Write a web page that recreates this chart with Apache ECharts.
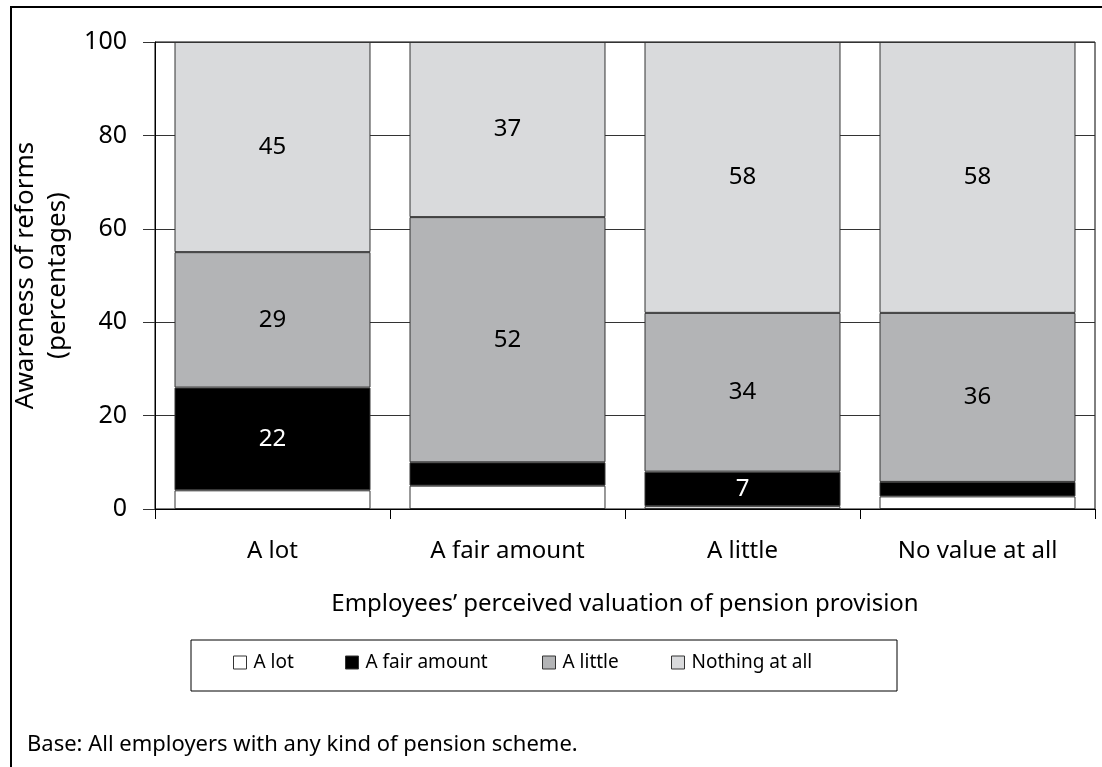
<!DOCTYPE html>
<html>
<head>
<meta charset="utf-8">
<script src="https://cdn.jsdelivr.net/npm/echarts@6/dist/echarts.min.js"></script>
<style>
html,body{margin:0;padding:0;background:#fff;}
#chart{width:1102px;height:767px;}
</style>
</head>
<body>
<div id="chart"></div>
<script>
var categories = ['A lot', 'A fair amount', 'A little', 'No value at all'];
var seriesNames = ['A lot', 'A fair amount', 'A little', 'Nothing at all'];
var aLot = [4, 5, 0.6, 2.7];
var aFairAmount = [22, 5, 7.4, 3.1];
var aLittle = [29, 52.5, 34, 36.2];
var nothingAtAll = [45, 37.5, 58, 58];
var yTicks = [0, 20, 40, 60, 80, 100];
var seriesColors = ['#ffffff', '#000000', '#b3b4b6', '#d9dadc'];
var labelColors = ['#000000', '#ffffff', '#000000', '#000000'];

var FONT = 'Noto Sans';
var chart = echarts.init(document.getElementById('chart'), null, {renderer: 'canvas'});
var allData = [aLot, aFairAmount, aLittle, nothingAtAll];

var series = allData.map(function (d, i) {
  return {
    name: seriesNames[i],
    type: 'bar',
    stack: 'total',
    data: d,
    barCategoryGap: '16.6%',
    itemStyle: {color: seriesColors[i], borderColor: '#333333', borderWidth: 1},
    label: {
      show: true,
      position: 'inside',
      color: labelColors[i],
      fontFamily: FONT,
      fontSize: 24,
      formatter: function (p) { return p.value >= 6 ? String(Math.floor(p.value)) : ''; }
    },
    emphasis: {disabled: true}
  };
});

var legendLefts = [233, 345, 542, 671];
var legends = seriesNames.map(function (n, i) {
  return {
    data: [n],
    left: legendLefts[i],
    top: 653,
    padding: 0,
    itemWidth: 13,
    itemHeight: 13,
    itemGap: 0,
    icon: 'rect',
    selectedMode: false,
    itemStyle: {borderColor: '#333333', borderWidth: 1},
    textStyle: {fontFamily: FONT, fontSize: 19, color: '#000', padding: [0, 0, 0, 2]}
  };
});

chart.setOption({
  animation: false,
  backgroundColor: '#ffffff',
  grid: {left: 155, right: 7, top: 42, bottom: 258, show: true, borderColor: '#000', borderWidth: 1, backgroundColor: 'transparent'},
  legend: legends,
  xAxis: {
    type: 'category',
    data: categories,
    name: 'Employees\u2019 perceived valuation of pension provision',
    nameLocation: 'middle',
    nameGap: 83,
    nameTextStyle: {fontFamily: FONT, fontSize: 24, color: '#000'},
    axisLine: {lineStyle: {color: '#000', width: 1}},
    axisTick: {show: true, length: 10, lineStyle: {color: '#000'}},
    axisLabel: {fontFamily: FONT, fontSize: 24, color: '#000', margin: 30}
  },
  yAxis: {
    type: 'value',
    min: yTicks[0],
    max: yTicks[yTicks.length - 1],
    interval: yTicks[1] - yTicks[0],
    name: 'Awareness of reforms\n(percentages)',
    nameLocation: 'middle',
    nameGap: 78,
    nameTextStyle: {fontFamily: FONT, fontSize: 26, color: '#000', lineHeight: 32},
    axisLine: {show: true, lineStyle: {color: '#000', width: 1}},
    axisTick: {show: true, length: 12, lineStyle: {color: '#333'}},
    axisLabel: {fontFamily: FONT, fontSize: 25, color: '#000', margin: 28},
    splitLine: {show: true, lineStyle: {color: '#333', width: 1}}
  },
  series: series,
  graphic: [
    {type: 'rect', shape: {x: 11, y: 7, width: 1200, height: 900}, style: {fill: 'none', stroke: '#000', lineWidth: 2}, silent: true, z: -1},
    {type: 'rect', shape: {x: 191, y: 640, width: 706, height: 51}, style: {fill: 'none', stroke: '#000', lineWidth: 1}, silent: true},
    {type: 'text', left: 27, top: 734, style: {text: 'Base: All employers with any kind of pension scheme.', fontFamily: FONT, fontSize: 22, fill: '#000'}}
  ]
});
</script>
</body>
</html>
